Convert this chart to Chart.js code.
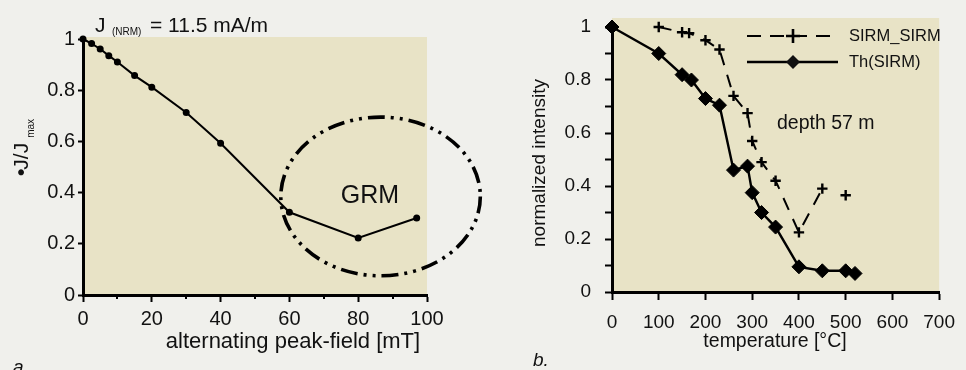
<!DOCTYPE html>
<html>
<head>
<meta charset="utf-8">
<script src="https://cdn.jsdelivr.net/npm/chart.js@4/dist/chart.umd.min.js"></script>
<style>
html,body{margin:0;padding:0;background:#f0f0ec;width:966px;height:370px;overflow:hidden;}
canvas{position:absolute;top:0;}
#c1{left:0;}
#c2{left:483px;}
</style>
</head>
<body>
<canvas id="c1" width="483" height="370"></canvas>
<canvas id="c2" width="483" height="370"></canvas>
<script>
// ---------- data: panel a (AF demagnetisation) ----------
const afField = [0, 2.5, 5, 7.5, 10, 15, 20, 30, 40, 60, 80, 97];
const afJ     = [1.0, 0.982, 0.961, 0.935, 0.91, 0.857, 0.812, 0.713, 0.593, 0.323, 0.223, 0.301];
const afXTicks = [0, 20, 40, 60, 80, 100];
const afXMinor = [10, 30, 50, 70, 90];
const afYTicks = [0, 0.2, 0.4, 0.6, 0.8, 1];
// GRM ellipse annotation (data units): centre x, centre y, radius x, radius y
const grmEllipse = [86.5, 0.385, 29, 0.31];
const grmLabel = [83.4, 0.385];

// ---------- data: panel b (thermal demagnetisation) ----------
const sirmTemp = [100, 150, 165, 200, 230, 260, 290, 300, 320, 350, 400, 450, 500];
const sirmVal  = [1.0, 0.98, 0.977, 0.95, 0.915, 0.74, 0.675, 0.57, 0.49, 0.42, 0.225, 0.39, 0.365];
const thTemp = [0, 100, 150, 170, 200, 230, 260, 290, 300, 320, 350, 400, 450, 500, 520];
const thVal  = [1.0, 0.90, 0.82, 0.80, 0.73, 0.705, 0.46, 0.475, 0.375, 0.30, 0.245, 0.095, 0.08, 0.08, 0.07];
const tXTicks = [0, 100, 200, 300, 400, 500, 600, 700];
const tYTicks = [0, 0.2, 0.4, 0.6, 0.8, 1];
const seriesNames = ['SIRM_SIRM', 'Th(SIRM)'];

const FONT = "'Liberation Sans', Arial, sans-serif";
const BEIGE = '#e8e3c6';

function pts(xs, ys){ return xs.map((x,i)=>({x:x, y:ys[i]})); }

function bgPlugin(ext){
  return {
    id:'bg',
    beforeDraw(chart){
      const a = chart.chartArea, c = chart.ctx;
      c.save(); c.fillStyle = BEIGE;
      c.fillRect(a.left, a.top-ext, a.right-a.left, a.bottom-a.top+ext);
      c.restore();
    }
  };
}

function axisCommon(min, max, step, labelFilter, tickLen, pad, fontSize, fixedSize, isX){
  return {
    type:'linear', min:min, max:max,
    ticks:{
      stepSize:step, autoSkip:false, maxRotation:0, padding:pad, color:'#111',
      font:{family:FONT, size:fontSize},
      callback:(v)=> labelFilter(v) ? (Math.round(v*10)/10).toString() : ''
    },
    grid:{drawOnChartArea:false, drawTicks:true, tickLength:tickLen, color:'#000', tickWidth:2},
    border:{display:true, color:'#000', width:3},
    afterFit(s){ if(isX) s.height = fixedSize; else s.width = fixedSize; }
  };
}

// ---------- chart a ----------
new Chart(document.getElementById('c1'), {
  type:'line',
  data:{datasets:[{
    data:pts(afField, afJ),
    borderColor:'#000', borderWidth:2, pointRadius:2.5,
    pointBackgroundColor:'#000', pointBorderColor:'#000', tension:0, clip:false
  }]},
  options:{
    responsive:false, devicePixelRatio:1, animation:false,
    layout:{padding:{left:0, right:56, top:39, bottom:0}},
    plugins:{legend:{display:false}, tooltip:{enabled:false}},
    scales:{
      x: axisCommon(0, 100, 20, v=>afXTicks.some(t=>Math.abs(t-v)<1e-6), 7, 5, 20, 75, true),
      y: axisCommon(0, 1, 0.2, v=>afYTicks.some(t=>Math.abs(t-v)<1e-6), 5, 3, 20, 83, false)
    }
  },
  plugins:[bgPlugin(2), {
    id:'annot',
    afterDatasetsDraw(chart){
      const c = chart.ctx, xs = chart.scales.x, ys = chart.scales.y;
      const cx = xs.getPixelForValue(grmEllipse[0]), cy = ys.getPixelForValue(grmEllipse[1]);
      const rx = xs.getPixelForValue(grmEllipse[0]+grmEllipse[2]) - cx;
      const ry = cy - ys.getPixelForValue(grmEllipse[1]+grmEllipse[3]);
      c.save();
      c.strokeStyle = '#000'; c.lineWidth = 3.6;
      c.setLineDash([17,6,3,6,3,6]);
      c.beginPath(); c.ellipse(cx, cy, rx, ry, 0, 0, Math.PI*2); c.stroke();
      c.setLineDash([]);
      c.fillStyle = '#111'; c.font = '25px '+FONT;
      c.textAlign = 'center'; c.textBaseline = 'middle';
      c.fillText('GRM', xs.getPixelForValue(grmLabel[0]), ys.getPixelForValue(grmLabel[1]));
      c.restore();
    },
    afterDraw(chart){
      const c = chart.ctx, xs = chart.scales.x, b = chart.chartArea.bottom;
      c.save(); c.fillStyle = '#111';
      // minor x ticks
      c.strokeStyle = '#000'; c.lineWidth = 2;
      c.beginPath();
      afXMinor.forEach(v=>{ const px = Math.round(xs.getPixelForValue(v)); c.moveTo(px, b); c.lineTo(px, b+4); });
      c.stroke();
      // top label
      c.textBaseline = 'alphabetic'; c.textAlign = 'left';
      c.font = '21px '+FONT; c.fillText('J', 95, 32);
      c.font = '10px '+FONT; c.fillText('(NRM)', 112, 35);
      c.font = '21px '+FONT; c.fillText('= 11.5 mA/m', 150, 32);
      // x title
      c.textAlign = 'center'; c.font = '22px '+FONT;
      c.fillText('alternating peak-field [mT]', 293, 348);
      // y title (rotated)
      c.save(); c.translate(28, 176); c.rotate(-Math.PI/2);
      c.textAlign = 'left'; c.font = 'bold 21px '+FONT;
      c.fillText('\u2022', 0, 0);
      const bw = c.measureText('\u2022').width;
      c.font = '21px '+FONT; c.fillText('J/J', bw-1, 0);
      const jw = c.measureText('J/J').width;
      c.font = '10px '+FONT; c.fillText('max', bw+jw+4, 6);
      c.restore();
      // panel letter
      c.font = 'italic 19px '+FONT; c.textAlign='left';
      c.fillText('a.', 13, 373);
      c.restore();
    }
  }]
});

// ---------- chart b ----------
const sirmLast = sirmVal.length - 1;
new Chart(document.getElementById('c2'), {
  type:'line',
  data:{datasets:[
    {
      label:seriesNames[0], data:pts(sirmTemp, sirmVal),
      borderColor:'#000', borderWidth:2, borderDash:[13,10],
      pointStyle:'cross', pointRadius:5.2, pointBorderWidth:2.4, pointBorderColor:'#000',
      tension:0, clip:false,
      segment:{borderColor:(ctx)=> ctx.p1DataIndex === sirmLast ? 'rgba(0,0,0,0)' : '#000'}
    },
    {
      label:seriesNames[1], data:pts(thTemp, thVal),
      borderColor:'#000', borderWidth:2.4,
      pointStyle:'rectRot', pointRadius:7, pointBackgroundColor:'#000', pointBorderColor:'#000', pointBorderWidth:1,
      tension:0, clip:false
    }
  ]},
  options:{
    responsive:false, devicePixelRatio:1, animation:false,
    layout:{padding:{left:0, right:18, top:27, bottom:0}},
    plugins:{legend:{display:false}, tooltip:{enabled:false}},
    scales:{
      x: axisCommon(0, 700, 100, v=>tXTicks.some(t=>Math.abs(t-v)<1e-6), 8, 11, 19, 78, true),
      y: axisCommon(0, 1, 0.1, v=>tYTicks.some(t=>Math.abs(t-v)<1e-6), 7, 14, 19, 129, false)
    }
  },
  plugins:[bgPlugin(9), {
    id:'texts',
    afterDraw(chart){
      const c = chart.ctx;
      c.save(); c.fillStyle = '#111'; c.strokeStyle = '#000';
      // legend
      const lx0 = 264, lx1 = 355, mx = 310, ry = [36, 62];
      const ds = chart.data.datasets;
      // row 1: dashed + cross
      c.lineWidth = ds[0].borderWidth; c.setLineDash([14,9]);
      c.beginPath(); c.moveTo(lx0, ry[0]); c.lineTo(lx1, ry[0]); c.stroke();
      c.setLineDash([]); c.lineWidth = 2.6;
      c.beginPath(); c.moveTo(mx-7, ry[0]); c.lineTo(mx+7, ry[0]); c.moveTo(mx, ry[0]-7); c.lineTo(mx, ry[0]+7); c.stroke();
      // row 2: solid + diamond
      c.lineWidth = ds[1].borderWidth;
      c.beginPath(); c.moveTo(lx0, ry[1]); c.lineTo(lx1, ry[1]); c.stroke();
      c.beginPath(); c.moveTo(mx, ry[1]-7); c.lineTo(mx+7, ry[1]); c.lineTo(mx, ry[1]+7); c.lineTo(mx-7, ry[1]); c.closePath(); c.fill();
      c.font = '16.5px '+FONT; c.textBaseline = 'middle'; c.textAlign = 'left';
      c.fillText(ds[0].label, 366, ry[0]);
      c.fillText(ds[1].label, 366, ry[1]);
      // annotation
      c.font = '19.5px '+FONT; c.textBaseline = 'alphabetic';
      c.fillText('depth 57 m', 294, 129);
      // x title
      c.textAlign = 'center'; c.font = '19.5px '+FONT;
      c.fillText('temperature [\u00B0C]', 292, 347);
      // y title
      c.save(); c.translate(62, 163); c.rotate(-Math.PI/2);
      c.textAlign = 'center'; c.font = '19px '+FONT;
      c.fillText('normalized intensity', 0, 0);
      c.restore();
      // panel letter
      c.font = 'italic 19px '+FONT; c.textAlign = 'left';
      c.fillText('b.', 50, 366);
      c.restore();
    }
  }]
});
</script>
</body>
</html>
